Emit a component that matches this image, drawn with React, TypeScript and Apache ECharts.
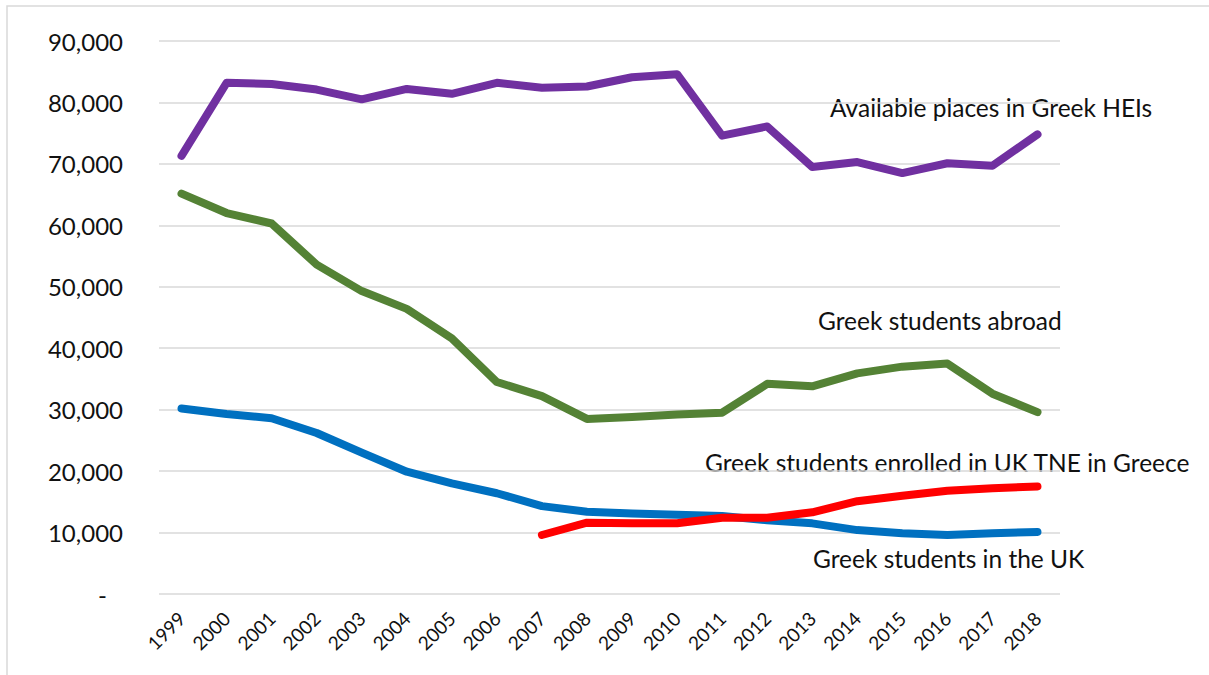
import React, { useEffect, useRef } from "react";
import * as echarts from "echarts";

const years = ["1999","2000","2001","2002","2003","2004","2005","2006","2007","2008","2009","2010","2011","2012","2013","2014","2015","2016","2017","2018"];

const availablePlaces = [71300, 83200, 83000, 82100, 80500, 82200, 81400, 83200, 82400, 82600, 84100, 84600, 74600, 76100, 69500, 70300, 68500, 70100, 69700, 74800];
const studentsAbroad = [65150, 62000, 60300, 53600, 49300, 46400, 41600, 34500, 32200, 28500, 28800, 29200, 29500, 34200, 33800, 35900, 37000, 37500, 32600, 29600];
const studentsInUK = [30200, 29300, 28600, 26200, 23000, 19900, 18000, 16400, 14300, 13400, 13100, 12900, 12700, 12000, 11500, 10400, 9900, 9600, 9900, 10100];
const tneInGreece = [null, null, null, null, null, null, null, null, 9600, 11600, 11500, 11500, 12400, 12400, 13300, 15100, 16000, 16800, 17200, 17500];

const yTicks = [0, 10000, 20000, 30000, 40000, 50000, 60000, 70000, 80000, 90000];

const seriesLabels = [
  { text: "Available places in Greek HEIs", x: 830, y: 107 },
  { text: "Greek students abroad", x: 818, y: 320 },
  { text: "Greek students enrolled in UK TNE in Greece", x: 705, y: 462 },
  { text: "Greek students in the UK", x: 813, y: 558 },
];

const FONT = "Lato, 'Noto Sans', sans-serif";

export default function App() {
  const ref = useRef<HTMLDivElement>(null);
  useEffect(() => {
    if (!ref.current) return;
    const chart = echarts.init(ref.current, null, { renderer: "svg" });
    const lineStyle = (color: string) => ({ color, width: 8, cap: "round", join: "round" });
    chart.setOption({
      animation: false,
      backgroundColor: "#ffffff",
      grid: { left: 159, right: 149, top: 41, bottom: 81, containLabel: false, outerBoundsMode: "none" },
      xAxis: {
        type: "category",
        data: years,
        boundaryGap: true,
        axisLine: { show: false },
        axisTick: { show: false },
        axisLabel: { rotate: 45, margin: 21, fontSize: 19, color: "#111", fontFamily: FONT, interval: 0 },
      },
      yAxis: {
        type: "value",
        min: yTicks[0],
        max: yTicks[yTicks.length - 1],
        interval: 10000,
        axisLine: { show: false },
        axisTick: { show: false },
        splitLine: { lineStyle: { color: "#d9d9d9", width: 1.5 } },
        axisLabel: {
          margin: 36,
          fontSize: 24,
          color: "#111",
          fontFamily: FONT,
          formatter: (v: number) => (v === 0 ? "{dash|-}" : v.toLocaleString("en-US")),
          rich: { dash: { fontSize: 24, color: "#111", fontFamily: FONT, padding: [0, 16, 0, 0] } },
        },
      },
      series: [
        { name: "Available places in Greek HEIs", type: "line", data: availablePlaces, symbol: "none", lineStyle: lineStyle("#7030A0"), itemStyle: { color: "#7030A0" } },
        { name: "Greek students abroad", type: "line", data: studentsAbroad, symbol: "none", lineStyle: lineStyle("#548235"), itemStyle: { color: "#548235" } },
        { name: "Greek students in the UK", type: "line", data: studentsInUK, symbol: "none", lineStyle: lineStyle("#0070C0"), itemStyle: { color: "#0070C0" } },
        { name: "Greek students enrolled in UK TNE in Greece", type: "line", data: tneInGreece, symbol: "none", connectNulls: false, lineStyle: lineStyle("#FF0000"), itemStyle: { color: "#FF0000" } },
      ],
      graphic: [
        { type: "rect", shape: { x: 7, y: 6, width: 1220, height: 700 }, style: { fill: "none", stroke: "#d9d9d9", lineWidth: 1.5 }, silent: true, z: 0 },
        ...seriesLabels.map((l) => ({
          type: "text",
          x: l.x,
          y: l.y,
          style: { text: l.text, fontSize: 24.5, fontFamily: FONT, fill: "#111", textVerticalAlign: "middle", textAlign: "left" },
          silent: true,
        })),
      ],
    });
    return () => chart.dispose();
  }, []);
  return <div ref={ref} style={{ position: "absolute", left: 0, top: 0, width: 1209, height: 675 }} />;
}
